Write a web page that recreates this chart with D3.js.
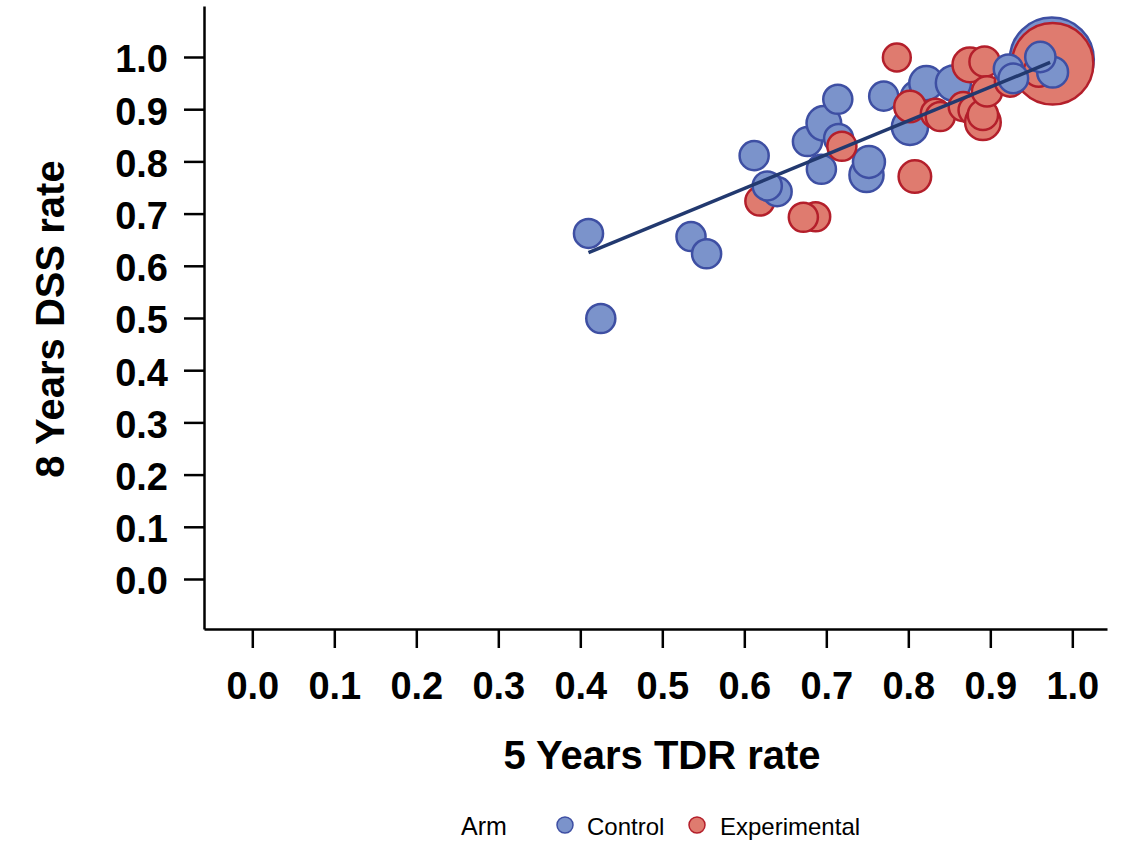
<!DOCTYPE html>
<html>
<head>
<meta charset="utf-8">
<script src="https://cdn.jsdelivr.net/npm/d3@7"></script>
<style>
  body { margin: 0; background: #fff; }
  svg { display: block; font-family: "Liberation Sans", Arial, sans-serif; }
</style>
</head>
<body>
<svg id="chart" width="1125" height="846"></svg>
<script>
// points in drawing order
const arm= ['C','E','E',
  'C','C','C','C','C','C','C','C','C','C','C','C','C','C','C','C','C','C','C',
  'E','E','E','E','E','E','E','E','E','E','E','E','E','E','E','E','E',
  'C','C','C','C'];
const tdr= [0.975,0.976,0.619,
  0.410,0.425,0.535,0.554,0.612,0.640,0.628,0.677,0.697,0.715,0.694,0.714,0.749,0.752,0.770,0.802,0.810,0.822,0.855,
  0.687,0.672,0.719,0.786,0.808,0.802,0.833,0.839,0.867,0.879,0.875,0.893,0.891,0.891,0.896,0.924,0.959,
  0.922,0.928,0.976,0.961];
const dss= [0.995,0.987,0.724,
  0.662,0.499,0.656,0.623,0.811,0.742,0.753,0.838,0.873,0.844,0.785,0.919,0.774,0.799,0.925,0.866,0.924,0.950,0.950,
  0.694,0.693,0.829,0.999,0.771,0.905,0.892,0.886,0.905,0.898,0.985,0.991,0.875,0.889,0.934,0.953,0.972,
  0.977,0.959,0.971,1.000];
const nPat= [1000,940,120,
  120,120,120,120,120,120,120,120,170,120,120,120,165,145,120,185,140,165,175,
  120,120,120,110,150,140,120,120,120,120,170,130,180,130,130,130,130,
  120,125,135,130];

const fitIntercept= 0.360, fitSlope= 0.647;
const fitRange= [0.41, 0.973];

const ticks= d3.range(0, 11).map(i => i/10);
const armNames= {C: 'Control', E: 'Experimental'};

const fill= {C: '#7b93cb', E: '#df7b6f'};
const stroke= {C: '#3e4fa3', E: '#b41f2b'};

const svg= d3.select('#chart');

const x= d3.scaleLinear().domain([-0.0589, 1.0423]).range([204, 1107]);
const y= d3.scaleLinear().domain([-0.0958, 1.0977]).range([629, 6]);
const r= d3.scaleSqrt().domain([0, 1000]).range([0, 42]);

const xAxis= svg.append('g')
  .attr('transform', 'translate(0,629)')
  .call(d3.axisBottom(x).tickValues(ticks).tickSize(19).tickSizeOuter(0)
    .tickFormat(d3.format('.1f')));
xAxis.selectAll('text')
  .attr('y', 43).attr('dy', '0.71em')
  .style('font-size', '38px').style('font-weight', 'bold').attr('fill', '#000');

const yAxis= svg.append('g')
  .attr('transform', 'translate(204,0)')
  .call(d3.axisLeft(y).tickValues(ticks).tickSize(20).tickSizeOuter(0)
    .tickFormat(d3.format('.1f')));
yAxis.selectAll('text')
  .attr('x', -36).attr('dy', '0.39em')
  .style('font-size', '38px').style('font-weight', 'bold').attr('fill', '#000');

svg.selectAll('.domain, .tick line').attr('stroke', '#000').attr('stroke-width', 2.5);

const pts= tdr.map((v, i) => ({x: v, y: dss[i], n: nPat[i], arm: arm[i]}));

svg.append('g').selectAll('circle')
  .data(pts)
  .join('circle')
    .attr('cx', d => x(d.x))
    .attr('cy', d => y(d.y))
    .attr('r', d => r(d.n))
    .attr('fill', d => fill[d.arm])
    .attr('stroke', d => stroke[d.arm])
    .attr('stroke-width', 2.5);

const line= d3.line().x(v => x(v)).y(v => y(fitIntercept+fitSlope*v));
svg.append('path')
  .attr('d', line(fitRange))
  .attr('fill', 'none')
  .attr('stroke', '#22396f')
  .attr('stroke-width', 3.5);

svg.append('text')
  .attr('x', 662).attr('y', 769)
  .attr('text-anchor', 'middle')
  .style('font-size', '40px').style('font-weight', 'bold')
  .text('5 Years TDR rate');

svg.append('text')
  .attr('transform', 'translate(64,319) rotate(-90)')
  .attr('text-anchor', 'middle')
  .style('font-size', '40px').style('font-weight', 'bold')
  .text('8 Years DSS rate');

// legend
const leg= svg.append('g');
leg.append('text').attr('x', 461).attr('y', 835)
  .style('font-size', '25px').text('Arm');
const items= [['C', 565, 587], ['E', 697, 720]];
items.forEach(([k, cx, tx]) => {
  leg.append('circle').attr('cx', cx).attr('cy', 825).attr('r', 8)
    .attr('fill', fill[k]).attr('stroke', stroke[k]).attr('stroke-width', 1.5);
  leg.append('text').attr('x', tx).attr('y', 835)
    .style('font-size', '24px').text(armNames[k]);
});
</script>
</body>
</html>
